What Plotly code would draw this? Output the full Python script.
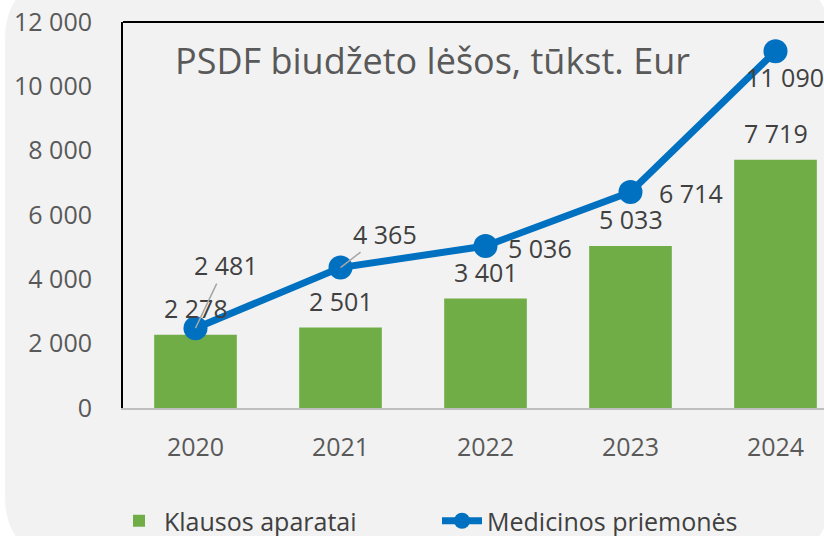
import plotly.graph_objects as go

# Duomenys
years = ['2020', '2021', '2022', '2023', '2024']
klausos = [2278, 2501, 3401, 5033, 7719]
medicinos = [2481, 4365, 5036, 6714, 11090]
y_ticks = [0, 2000, 4000, 6000, 8000, 10000, 12000]

title_text = 'PSDF biudžeto lėšos, tūkst. Eur'
FONT = 'Open Sans'
GREEN = '#70AD47'
BLUE = '#0070C0'

# plot area geometry (pixels)
W, H = 824, 536
L, R, T, B = 123, 0, 22, 128
pw, ph = W - L - R, H - T - B


def px(x):
    return (x - L) / pw


def py(y):
    return (H - B - y) / ph


def fmt(v):
    return f'{v:,}'.replace(',', ' ')


fig = go.Figure()

fig.add_trace(go.Bar(
    x=years, y=klausos, name='Klausos aparatai',
    marker=dict(color=GREEN, line=dict(width=0)),
    width=0.57
))

fig.add_trace(go.Scatter(
    x=years, y=medicinos, name='Medicinos priemonės',
    mode='lines+markers',
    line=dict(color=BLUE, width=7),
    marker=dict(color=BLUE, size=24),
    cliponaxis=False
))

annotations = []

# bar labels (x as category index)
for i, v in enumerate(klausos):
    annotations.append(dict(
        x=i, y=v, text=fmt(v), showarrow=False, yshift=27,
        font=dict(family=FONT, size=25, color='#404040')
    ))

# line labels (offsets in px)
line_offsets = [
    dict(showarrow=True, ax=30, ay=-63),
    dict(showarrow=True, ax=44, ay=-34),
    dict(showarrow=False, xshift=54, yshift=-2),
    dict(showarrow=False, xshift=60, yshift=-1),
    dict(showarrow=False, xshift=9, yshift=-26),
]
for i, (v, off) in enumerate(zip(medicinos, line_offsets)):
    a = dict(x=i, y=v, text=fmt(v),
             font=dict(family=FONT, size=25, color='#404040'))
    if off['showarrow']:
        a.update(showarrow=True, arrowhead=0, arrowwidth=1.5,
                 arrowcolor='#A6A6A6', ax=off['ax'], ay=off['ay'],
                 standoff=0, startstandoff=0)
    else:
        a.update(showarrow=False, xshift=off['xshift'], yshift=off['yshift'])
    annotations.append(a)

# title
annotations.append(dict(
    x=px(432), y=py(60), xref='paper', yref='paper', text=title_text,
    xanchor='center', yanchor='middle',
    showarrow=False, font=dict(family=FONT, size=36, color='#595959')
))

# rounded grey panel behind everything
x0, x1, y0, y1, r = 5, 830, -20, 556, 60
pts = [
    ('M', x0 + r, y0), ('L', x1 - r, y0), ('Q', x1, y0, x1, y0 + r),
    ('L', x1, y1 - r), ('Q', x1, y1, x1 - r, y1), ('L', x0 + r, y1),
    ('Q', x0, y1, x0, y1 - r), ('L', x0, y0 + r), ('Q', x0, y0, x0 + r, y0),
]
path = ''
for p in pts:
    cmd, coords = p[0], p[1:]
    c = []
    for k in range(0, len(coords), 2):
        c.append(f'{px(coords[k]):.4f},{py(coords[k + 1]):.4f}')
    path += cmd + ' '.join(c) + ' '
path += 'Z'

shapes = [
    dict(type='path', path=path, xref='paper', yref='paper',
         fillcolor='#F2F2F2', line=dict(width=0), layer='below'),
    dict(type='line', xref='paper', yref='paper', x0=0, x1=1, y0=1, y1=1,
         line=dict(color='black', width=2)),
]

fig.update_layout(
    width=W, height=H,
    margin=dict(l=L, r=R, t=T, b=B, autoexpand=False),
    paper_bgcolor='white',
    plot_bgcolor='rgba(0,0,0,0)',
    separators=', ',
    font=dict(family=FONT, size=25, color='#595959'),
    showlegend=True,
    legend=dict(
        orientation='h', x=px(114), xanchor='left', y=py(521), yanchor='middle',
        font=dict(family=FONT, size=25, color='#404040'),
        bgcolor='rgba(0,0,0,0)', itemwidth=40, entrywidth=268
    ),
    xaxis=dict(
        range=[-0.5, 4.5 - 24 / 145],
        showline=True, linecolor='#BFBFBF', linewidth=2,
        showgrid=False, ticks='', ticklabelstandoff=16,
        tickfont=dict(family=FONT, size=25, color='#595959'),
        fixedrange=True
    ),
    yaxis=dict(
        range=[0, 12000], tickvals=y_ticks, tickformat=',d',
        showline=True, linecolor='black', linewidth=2,
        showgrid=False, zeroline=False, ticks='', ticklabelstandoff=24,
        tickfont=dict(family=FONT, size=25, color='#595959'),
        fixedrange=True
    ),
    annotations=annotations,
    shapes=shapes,
    bargap=0.43
)

# page body has a default 8px margin; remove it so the figure sits at 0,0
fig.write_html('out.html', config={'displayModeBar': False},
               post_script="document.body.style.margin='0';")
